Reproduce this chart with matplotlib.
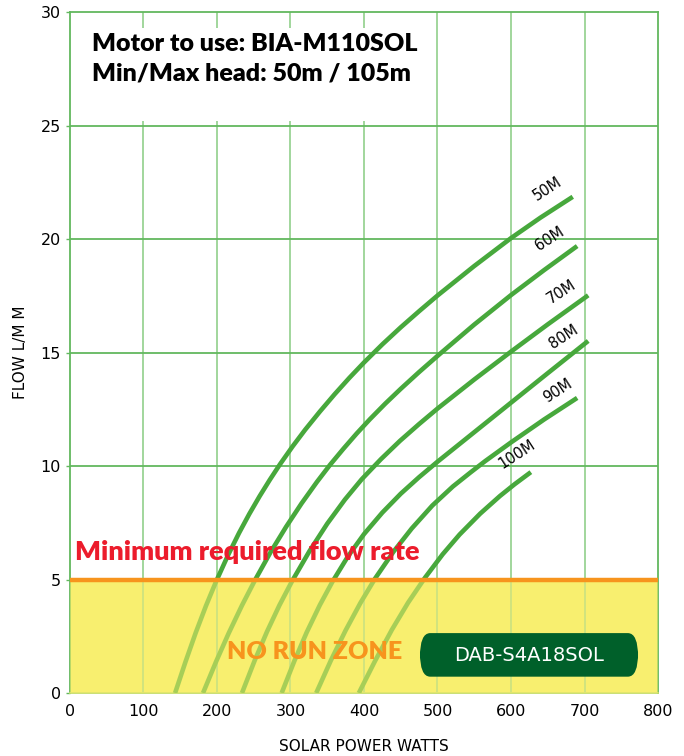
import matplotlib
matplotlib.use("Agg")
import matplotlib.pyplot as plt
from matplotlib.patches import FancyBboxPatch, Rectangle

# pump curves: solar watts vs flow (L/min) per head
heads = ["50M", "60M", "70M", "80M", "90M", "100M"]
watts_50 = [143, 157, 171, 185, 199, 215, 230, 244, 258, 272, 286, 303, 320, 340, 360,
            380, 400, 425, 450, 475, 500, 550, 600, 640, 684]
flow_50 = [0, 1.36, 2.65, 3.84, 4.93, 6.07, 7.05, 7.89, 8.67, 9.4, 10.09, 10.87, 11.6, 12.4,
           13.16, 13.88, 14.56, 15.36, 16.11, 16.82, 17.51, 18.81, 20.04, 20.94, 21.86]
watts_60 = [181, 199, 216, 234, 252, 273, 294, 315, 336, 354, 372, 390, 408, 429, 450,
            475, 500, 550, 600, 645, 690]
flow_60 = [0, 1.4, 2.64, 3.86, 4.99, 6.21, 7.32, 8.35, 9.3, 10.06, 10.76, 11.43, 12.06,
           12.75, 13.4, 14.14, 14.85, 16.23, 17.53, 18.63, 19.69]
watts_70 = [234, 251, 268, 285, 302, 326, 350, 374, 397, 423, 449, 475, 500, 550, 600, 650, 705]
flow_70 = [0, 1.41, 2.7, 3.87, 4.92, 6.26, 7.46, 8.52, 9.42, 10.3, 11.11, 11.85, 12.53,
           13.81, 15.04, 16.24, 17.52]
watts_80 = [288, 305, 322, 340, 357, 378, 400, 425, 450, 475, 500, 550, 600, 650, 705]
flow_80 = [0, 1.39, 2.67, 3.88, 4.9, 6.01, 7.0, 7.95, 8.78, 9.51, 10.19, 11.49, 12.79,
           14.09, 15.51]
watts_90 = [335, 355, 375, 395, 415, 440, 465, 493, 521, 545, 565, 600, 645, 690]
flow_90 = [0, 1.44, 2.76, 3.96, 5.04, 6.22, 7.25, 8.26, 9.1, 9.72, 10.22, 11.04, 12.05, 13.0]
watts_100 = [393, 415, 438, 460, 483, 507, 530, 558, 585, 605, 627]
flow_100 = [0, 1.41, 2.79, 3.98, 5.08, 6.11, 6.98, 7.9, 8.68, 9.2, 9.73]

curves = [(watts_50, flow_50), (watts_60, flow_60), (watts_70, flow_70),
          (watts_80, flow_80), (watts_90, flow_90), (watts_100, flow_100)]
label_x = [650, 652, 669, 672, 663, 608]
label_y = [22.2, 20.0, 17.7, 15.7, 13.3, 10.5]

x_ticks = [0, 100, 200, 300, 400, 500, 600, 700, 800]
y_ticks = [0, 5, 10, 15, 20, 25, 30]
min_flow = 5

bold_font = ["Lato", "DejaVu Sans"]

fig = plt.figure(figsize=(6.84, 7.56), dpi=100)
ax = fig.add_axes([0.1023, 0.0833, 0.8597, 0.9008])
ax.set_xlim(0, 800)
ax.set_ylim(0, 30)

for x in x_ticks[1:-1]:
    ax.axvline(x, color="#9ad394", lw=1.3, zorder=1)
for y in y_ticks[1:-1]:
    ax.axhline(y, color="#62b85e", lw=1.3, zorder=1)

# white panel behind the motor text
ax.add_patch(Rectangle((3, 25.2), 427, 4.1, facecolor="white", edgecolor="none", zorder=2))

# no run zone
ax.axhspan(0, min_flow, color="#f8ef6f", zorder=0)

green = "#47a83c"
for (w, f), name, lx, ly in zip(curves, heads, label_x, label_y):
    ax.plot(w, f, color=green, lw=3.3, solid_capstyle="butt", solid_joinstyle="round", zorder=3)
    ax.text(lx, ly, name, rotation=33, ha="center", va="center", fontsize=10.5, zorder=5)

ax.axhspan(0, min_flow, color="#f8ef6f", alpha=0.55, lw=0, zorder=4)
ax.axhline(min_flow, color="#f7941d", lw=3.2, zorder=5)

ax.text(7, 6.2, "Minimum required flow rate", color="#ec1c2c", fontsize=19.5,
        fontweight="heavy", family=bold_font, va="center", ha="left", zorder=6)
ax.text(333, 1.8, "NO RUN ZONE", color="#f7941d", fontsize=18,
        fontweight="heavy", family=bold_font, va="center", ha="center", zorder=6)

box = FancyBboxPatch((476, 0.72), 297, 1.92, boxstyle="round,pad=0,rounding_size=14",
                     mutation_aspect=1 / 13, facecolor="#00602a", edgecolor="none", zorder=6)
ax.add_patch(box)
ax.text(625, 1.67, "DAB-S4A18SOL", color="white", fontsize=14, ha="center", va="center", zorder=7)

ax.text(30, 28.6, "Motor to use: BIA-M110SOL", fontsize=18, fontweight="heavy",
        family=bold_font, va="center", zorder=6)
ax.text(30, 27.3, "Min/Max head: 50m / 105m", fontsize=18, fontweight="heavy",
        family=bold_font, va="center", zorder=6)

ax.set_xticks(x_ticks)
ax.set_yticks(y_ticks)
ax.tick_params(axis="both", labelsize=11.5, color="#62b85e", length=3, width=1)
ax.tick_params(axis="x", length=0, pad=8)
for s in ax.spines.values():
    s.set_color("#62b85e")
    s.set_linewidth(1.3)
ax.spines["bottom"].set_color("#c5dc6a")

ax.set_xlabel("SOLAR POWER WATTS", fontsize=11, labelpad=14)
ax.set_ylabel("FLOW L/M M", fontsize=11, labelpad=9)

fig.savefig("out.png", dpi=100)
